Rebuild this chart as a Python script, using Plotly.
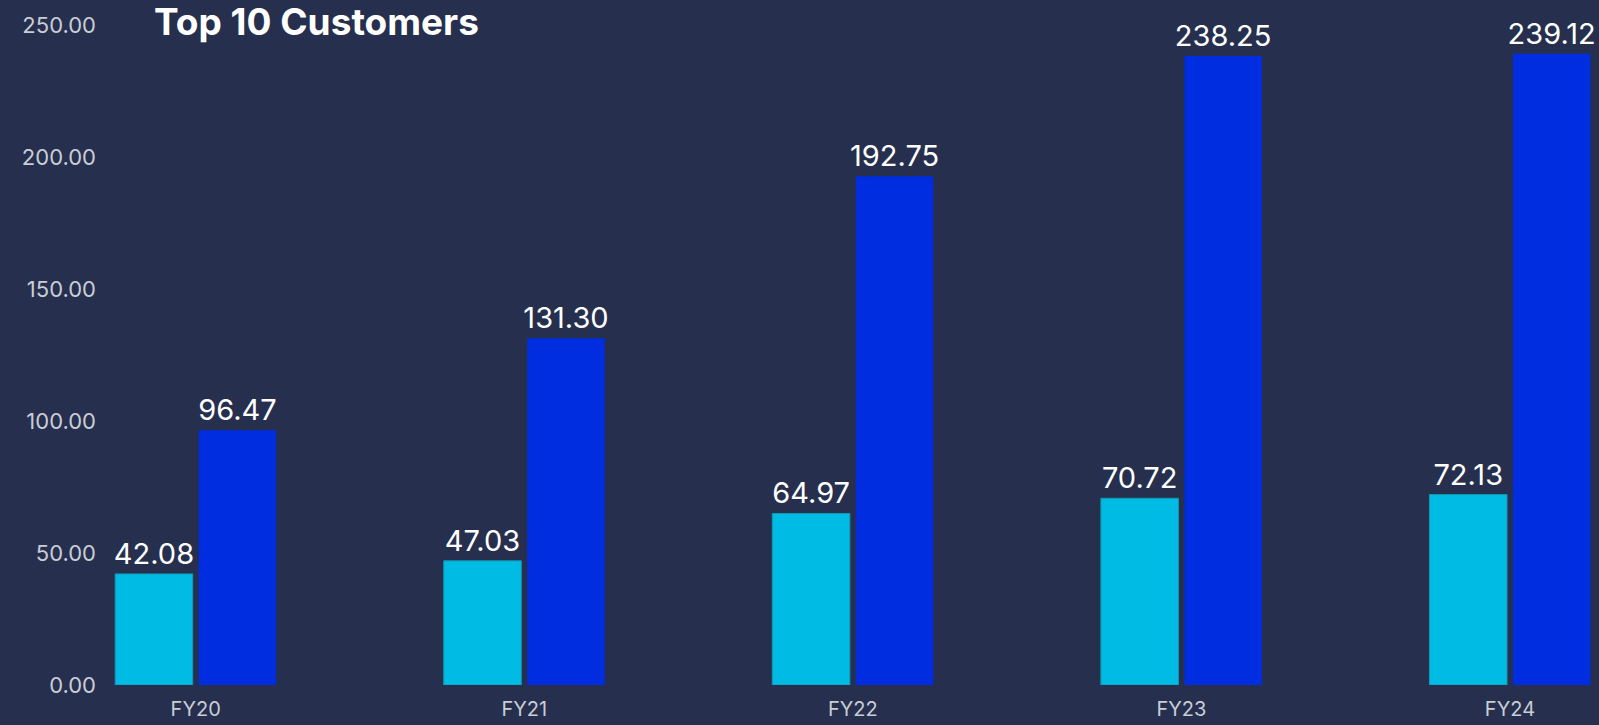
import plotly.graph_objects as go

categories = ["FY20", "FY21", "FY22", "FY23", "FY24"]
series_a = [42.08, 47.03, 64.97, 70.72, 72.13]
series_b = [96.47, 131.30, 192.75, 238.25, 239.12]
y_ticks = [0, 50, 100, 150, 200, 250]
y_tick_labels = ["0.00", "50.00", "100.00", "150.00", "200.00", "250.00"]

FONT = "Inter, Lato, 'Open Sans', sans-serif"

fig = go.Figure()
fig.add_trace(go.Bar(
    x=categories, y=series_a, name="A",
    marker=dict(color="#00BBE3", line=dict(color="#1597b5", width=1)),
    width=0.236, offset=-0.245,
    text=[f"{v:.2f}" for v in series_a], textposition="outside",
    textfont=dict(color="white", size=29, family=FONT),
    constraintext="none", cliponaxis=False,
))
fig.add_trace(go.Bar(
    x=categories, y=series_b, name="B",
    marker=dict(color="#002DE0", line=dict(width=0)),
    width=0.236, offset=0.009,
    text=[f"{v:.2f}" for v in series_b], textposition="outside",
    textfont=dict(color="white", size=29, family=FONT),
    constraintext="none", cliponaxis=False,
))

fig.update_layout(
    width=1599, height=725,
    barmode="group",
    showlegend=False,
    paper_bgcolor="#26304e",
    plot_bgcolor="rgba(0,0,0,0)",
    margin=dict(l=105, r=0, t=25, b=40),
    font=dict(family=FONT, color="#c9cdd6"),
    xaxis=dict(
        type="category", range=[-0.276, 4.271],
        showgrid=False, showline=False, zeroline=False, ticks="",
        tickfont=dict(size=20, color="#c9cdd6", family=FONT),
        ticklabelstandoff=10,
    ),
    yaxis=dict(
        range=[0, 250], tickvals=y_ticks, ticktext=y_tick_labels,
        showgrid=False, showline=False, zeroline=False, ticks="",
        tickfont=dict(size=22, color="#c9cdd6", family=FONT),
        ticklabelstandoff=8,
    ),
    annotations=[dict(
        text="<b>Top 10 Customers</b>", xref="paper", yref="paper",
        x=(152 - 105) / 1494, y=1, xanchor="left", yanchor="middle",
        yshift=4,
        showarrow=False, font=dict(size=37, color="white", family=FONT),
    )],
)

fig.write_html(
    "out.html",
    config={"displayModeBar": False},
    post_script="document.body.style.margin='0';document.body.style.background='#26304e';",
)
